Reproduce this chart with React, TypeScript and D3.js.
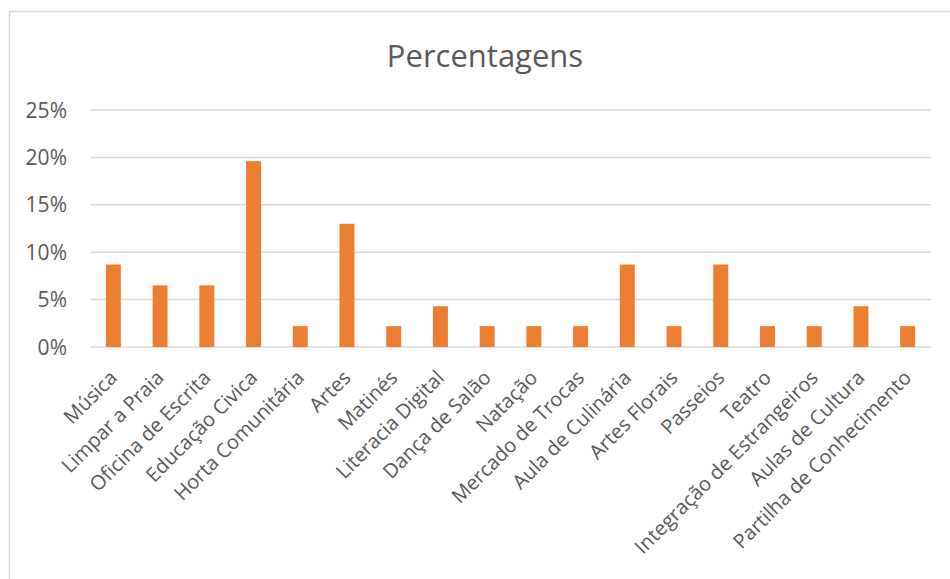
import React from "react";
import * as d3 from "d3";

const categories = [
  "Música", "Limpar a Praia", "Oficina de Escrita", "Educação Civica", "Horta Comunitária",
  "Artes", "Matinés", "Literacia Digital", "Dança de Salão", "Natação", "Mercado de Trocas",
  "Aula de Culinária", "Artes Florais", "Passeios", "Teatro", "Integração de Estrangeiros",
  "Aulas de Cultura", "Partilha de Conhecimento",
];
const values = [8.7, 6.5, 6.5, 19.6, 2.2, 13.0, 2.2, 4.3, 2.2, 2.2, 2.2, 8.7, 2.2, 8.7, 2.2, 2.2, 4.3, 2.2];
const yTicks = [0, 5, 10, 15, 20, 25];
const title = "Percentagens";

const W = 950, H = 579;
const FONT = "'Open Sans', sans-serif";
const TEXT = "#595959";

export default function App() {
  const x = d3.scaleBand<string>().domain(categories).range([90, 931]).paddingInner(0.68).paddingOuter(0.34);
  const y = d3.scaleLinear().domain([0, 25]).range([347, 110]);
  return (
    <svg width={W} height={H} style={{ position: "absolute", left: 0, top: 0, background: "#fff" }}>
      <rect x={9.5} y={11.5} width={W + 20} height={H + 20} fill="#fff" stroke="#d9d9d9" strokeWidth={1.5} />
      <text x={485} y={67} textAnchor="middle" fontFamily={FONT} fontSize={31} fill={TEXT}>{title}</text>
      {yTicks.map((t) => (
        <g key={t}>
          <line x1={90} x2={931} y1={y(t)} y2={y(t)} stroke="#d9d9d9" strokeWidth={1.5} />
          <text x={67} y={y(t)} dy="0.36em" textAnchor="end" fontFamily={FONT} fontSize={21} fill={TEXT}>{t}%</text>
        </g>
      ))}
      {categories.map((c, i) => (
        <rect key={c} x={x(c)} y={y(values[i])} width={x.bandwidth()} height={y(0) - y(values[i])} fill="#ed7d31" />
      ))}
      {categories.map((c) => {
        const cx = (x(c) as number) + x.bandwidth() / 2;
        return (
          <text key={c} transform={`translate(${cx + 5},${379}) rotate(-45)`} textAnchor="end"
            fontFamily={FONT} fontSize={20} fill={TEXT}>{c}</text>
        );
      })}
    </svg>
  );
}
